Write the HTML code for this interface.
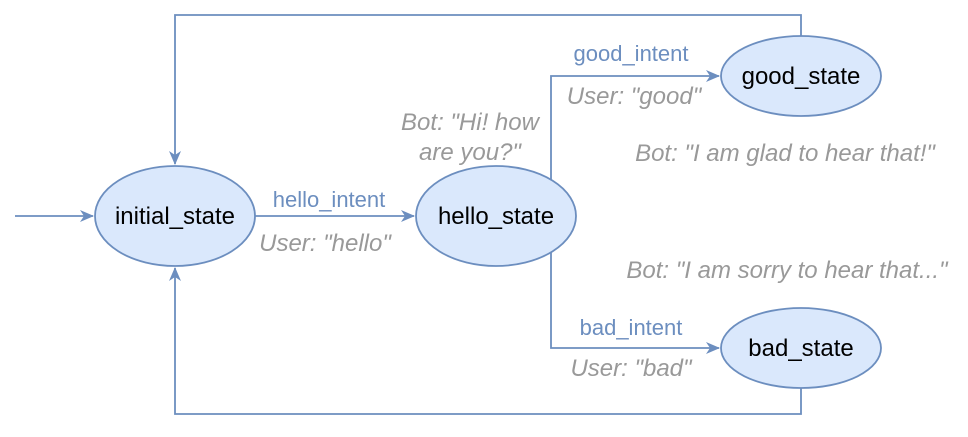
<!DOCTYPE html>
<html><head><meta charset="utf-8"><style>html,body{margin:0;padding:0;background:#fff}</style></head>
<body>
<svg width="968" height="432" viewBox="0 0 968 432" xmlns="http://www.w3.org/2000/svg" font-family="Liberation Sans, sans-serif">
<defs>
<marker id="a" markerWidth="16" markerHeight="16" refX="13" refY="8" orient="auto" markerUnits="userSpaceOnUse">
<path d="M0,2 L14,8 L0,14 L4,8 Z" fill="#6c8ebf"/>
</marker>
</defs>
<g fill="none" stroke="#6c8ebf" stroke-width="1.8">
<path d="M15,216 H93" marker-end="url(#a)"/>
<path d="M255,216 H414" marker-end="url(#a)"/>
<path d="M551,181 V76 H719" marker-end="url(#a)"/>
<path d="M551,251 V348 H719" marker-end="url(#a)"/>
<path d="M801,36 V15 H175 V164" marker-end="url(#a)"/>
<path d="M801,388 V414 H175 V268" marker-end="url(#a)"/>
</g>
<g fill="#dae8fc" stroke="#6c8ebf" stroke-width="1.8">
<ellipse cx="175" cy="216" rx="80" ry="50"/>
<ellipse cx="496" cy="216" rx="80" ry="50"/>
<ellipse cx="801" cy="76" rx="80" ry="40"/>
<ellipse cx="801" cy="348" rx="80" ry="40"/>
</g>
<g font-size="24" fill="#000" text-anchor="middle">
<text x="175" y="224">initial_state</text>
<text x="496" y="224">hello_state</text>
<text x="801" y="84">good_state</text>
<text x="801" y="356">bad_state</text>
</g>
<g font-size="22" fill="#6c8ebf" text-anchor="middle">
<text x="329" y="207">hello_intent</text>
<text x="631" y="61">good_intent</text>
<text x="631" y="335">bad_intent</text>
</g>
<g font-size="24" fill="#999" font-style="italic" text-anchor="middle">
<text x="325" y="251">User: "hello"</text>
<text x="634" y="104">User: "good"</text>
<text x="631" y="376">User: "bad"</text>
<text x="470" y="130">Bot: "Hi! how</text>
<text x="470" y="160">are you?"</text>
<text x="785" y="161">Bot: "I am glad to hear that!"</text>
<text x="787" y="278">Bot: "I am sorry to hear that..."</text>
</g>
</svg>
</body></html>
